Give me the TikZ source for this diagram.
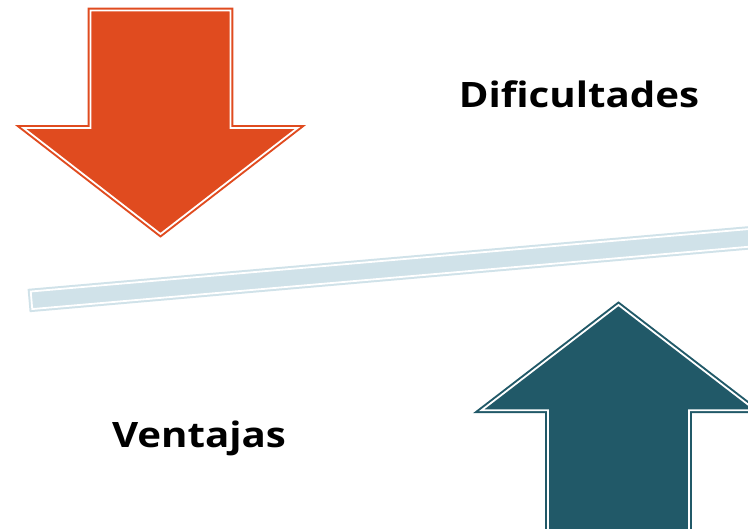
\documentclass[tikz,border=0pt]{standalone}
\usepackage{fontspec}
\setmainfont{Open Sans}
\newfontfamily\lblfont[FakeStretch=1.15]{Open Sans}
\definecolor{arrred}{HTML}{E04B1F}
\definecolor{arrblue}{HTML}{215968}
\definecolor{barblue}{HTML}{D0E2E9}
\tikzset{
  dblshape/.style={fill=#1, draw=#1, line width=2pt, double=white, double distance=1.8pt, line join=miter},
  lbl/.style={font=\lblfont\fontsize{35}{40}\selectfont\bfseries, anchor=base, inner sep=0pt}
}
\begin{document}
\begin{tikzpicture}[x=1pt,y=-1pt]
\useasboundingbox (0,0) rectangle (748,529);
% red down arrow
\draw[dblshape=arrred] (90.5,10.5) -- (230.5,10.5) -- (230.5,128) -- (297.5,128) -- (160.5,234) -- (23.5,128) -- (90.5,128) -- cycle;
% blue up arrow
\draw[dblshape=arrblue] (618.5,305) -- (755.5,410.3) -- (689,410.3) -- (689,545) -- (548,545) -- (548,410.3) -- (481.5,410.3) -- cycle;
% bar
\begin{scope}[shift={(29,300.5)}, rotate=4.97]
\draw[dblshape=barblue] (2.5,-8.8) rectangle (740,8.8);
\end{scope}
\node[lbl] (dif) at (579,108) {Dificultades};
\node[lbl] (ven) at (199,448) {Ventajas};
\end{tikzpicture}
\end{document}
